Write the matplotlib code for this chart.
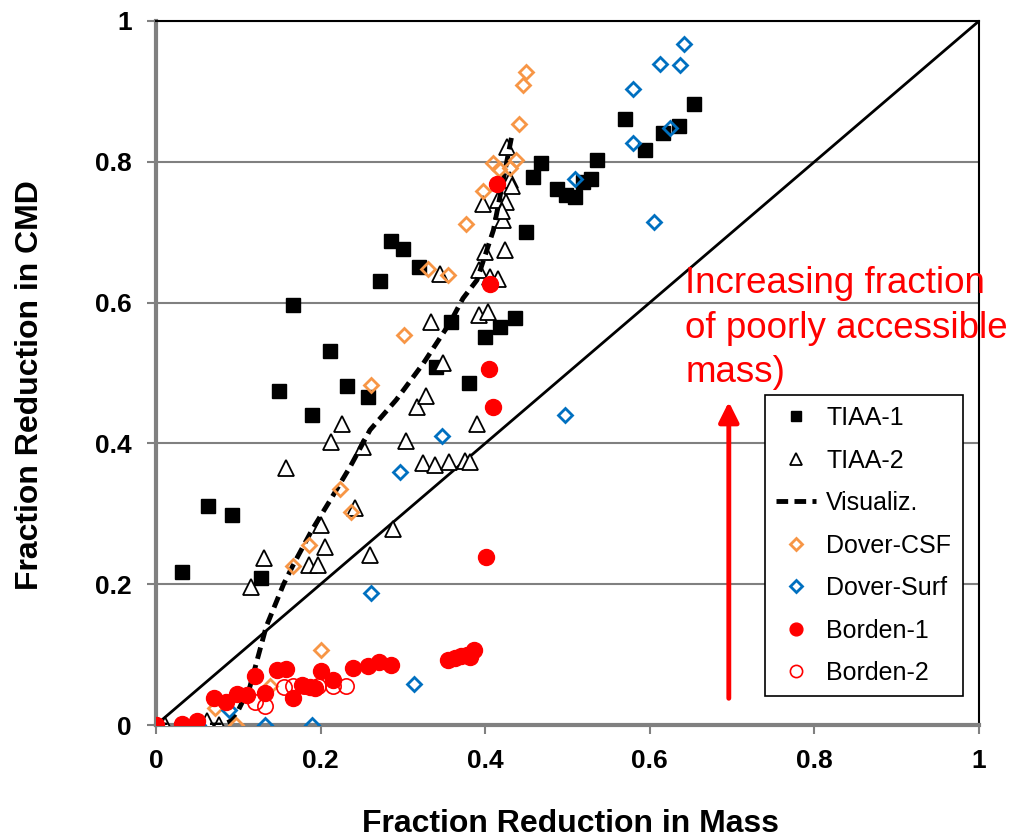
import matplotlib
matplotlib.use('Agg')
import matplotlib.pyplot as plt
import numpy as np

plt.rcParams['font.family'] = ['Liberation Sans', 'DejaVu Sans']

# TIAA-1 (filled squares)
tiaa1_x = [0.032, 0.063, 0.092, 0.128, 0.167, 0.150, 0.190, 0.211, 0.232, 0.257,
           0.272, 0.286, 0.300, 0.319, 0.358, 0.340, 0.380, 0.400, 0.418, 0.436,
           0.450, 0.458, 0.468, 0.487, 0.498, 0.509, 0.519, 0.528, 0.536, 0.570,
           0.594, 0.616, 0.636, 0.654]
tiaa1_y = [0.217, 0.311, 0.298, 0.209, 0.597, 0.474, 0.441, 0.531, 0.482, 0.466,
           0.631, 0.687, 0.676, 0.651, 0.573, 0.508, 0.486, 0.551, 0.566, 0.578,
           0.700, 0.778, 0.799, 0.761, 0.753, 0.750, 0.772, 0.776, 0.803, 0.861,
           0.817, 0.841, 0.851, 0.882]

# TIAA-2 (open triangles)
tiaa2_x = [0.011, 0.045, 0.062, 0.076, 0.116, 0.131, 0.158, 0.186, 0.197, 0.201,
           0.205, 0.213, 0.226, 0.242, 0.251, 0.260, 0.288, 0.304, 0.317, 0.328,
           0.334, 0.349, 0.325, 0.339, 0.356, 0.375, 0.381, 0.390, 0.345, 0.392,
           0.404, 0.393, 0.400, 0.406, 0.416, 0.424, 0.422, 0.397, 0.416, 0.425,
           0.430, 0.432, 0.426, 0.420]
tiaa2_y = [0.000, 0.000, 0.005, 0.000, 0.196, 0.237, 0.365, 0.227, 0.227, 0.284,
           0.253, 0.402, 0.428, 0.308, 0.395, 0.241, 0.278, 0.403, 0.451, 0.467,
           0.572, 0.514, 0.372, 0.370, 0.373, 0.375, 0.373, 0.428, 0.641, 0.582,
           0.587, 0.646, 0.672, 0.637, 0.634, 0.675, 0.717, 0.740, 0.746, 0.743,
           0.774, 0.765, 0.821, 0.730]

# Visualization curve (dashed)
vis_x = [0.0, 0.08, 0.09, 0.10, 0.114, 0.134, 0.155, 0.167, 0.19, 0.211, 0.236,
         0.26, 0.292, 0.325, 0.357, 0.373, 0.39, 0.41, 0.432]
vis_y = [0.0, 0.0, 0.005, 0.021, 0.054, 0.14, 0.2, 0.228, 0.278, 0.318, 0.367,
         0.419, 0.462, 0.514, 0.571, 0.606, 0.632, 0.703, 0.835]

# Dover-CSF (orange diamonds)
csf_x = [0.072, 0.097, 0.139, 0.166, 0.186, 0.201, 0.224, 0.237, 0.261, 0.301,
         0.331, 0.355, 0.377, 0.397, 0.410, 0.417, 0.430, 0.438, 0.441, 0.446, 0.450]
csf_y = [0.024, 0.000, 0.055, 0.226, 0.255, 0.107, 0.335, 0.302, 0.483, 0.554,
         0.648, 0.639, 0.711, 0.758, 0.798, 0.790, 0.791, 0.803, 0.853, 0.909, 0.927]

# Dover-Surf (blue diamonds)
surf_x = [0.051, 0.089, 0.132, 0.190, 0.261, 0.296, 0.313, 0.348, 0.497, 0.509,
          0.579, 0.580, 0.605, 0.612, 0.625, 0.637, 0.642]
surf_y = [0.000, 0.021, 0.000, 0.000, 0.187, 0.359, 0.058, 0.411, 0.441, 0.775,
          0.826, 0.903, 0.714, 0.939, 0.848, 0.937, 0.967]

# Borden-1 (filled red circles)
b1_x = [0.0, 0.031, 0.050, 0.070, 0.085, 0.099, 0.110, 0.120, 0.132, 0.147, 0.158,
        0.167, 0.177, 0.187, 0.193, 0.201, 0.215, 0.239, 0.257, 0.271, 0.285,
        0.355, 0.363, 0.371, 0.378, 0.382, 0.386, 0.401, 0.405, 0.410, 0.406, 0.414]
b1_y = [0.0, 0.002, 0.005, 0.039, 0.033, 0.044, 0.043, 0.069, 0.045, 0.078, 0.080,
        0.038, 0.057, 0.054, 0.053, 0.077, 0.064, 0.081, 0.084, 0.090, 0.085,
        0.093, 0.095, 0.098, 0.099, 0.097, 0.107, 0.238, 0.505, 0.451, 0.627, 0.769]

# Borden-2 (open red circles)
b2_x = [0.0, 0.120, 0.132, 0.155, 0.167, 0.180, 0.197, 0.215, 0.231]
b2_y = [0.0, 0.033, 0.027, 0.054, 0.055, 0.056, 0.055, 0.055, 0.055]

ticks = [0, 0.2, 0.4, 0.6, 0.8, 1]
tick_labels = ['0', '0.2', '0.4', '0.6', '0.8', '1']

orange = '#F79646'
blue = '#0070C0'
red = '#FF0000'
grey = '#808080'

fig = plt.figure(figsize=(10.15, 8.38), dpi=100)
ax = fig.add_axes([156 / 1015, 113 / 838, 823 / 1015, 704 / 838])

# 1:1 line
ax.plot([0, 1], [0, 1], color='black', lw=2, zorder=2)

ax.plot(tiaa1_x, tiaa1_y, ls='none', marker='s', ms=9.5, color='black',
        label='TIAA-1', zorder=3)
ax.plot(tiaa2_x, tiaa2_y, ls='none', marker='^', ms=11, mfc='white', mec='black',
        mew=1.3, label='TIAA-2', zorder=3)
ax.plot(vis_x, vis_y, color='black', lw=3.5, ls=(0, (2.4, 1.3)),
        label='Visualiz.', zorder=4)
ax.plot(csf_x, csf_y, ls='none', marker='D', ms=7.5, mfc='none', mec=orange,
        mew=2, label='Dover-CSF', zorder=5)
ax.plot(surf_x, surf_y, ls='none', marker='D', ms=7.5, mfc='none', mec=blue,
        mew=2, label='Dover-Surf', zorder=5)
ax.plot(b1_x, b1_y, ls='none', marker='o', ms=11.5, color=red,
        label='Borden-1', zorder=6)
ax.plot(b2_x, b2_y, ls='none', marker='o', ms=11, mfc='none', mec=red,
        mew=1.2, label='Borden-2', zorder=6)

ax.set_xlim(0, 1)
ax.set_ylim(0, 1)
ax.set_xticks(ticks)
ax.set_xticklabels(tick_labels)
ax.set_yticks(ticks)
ax.set_yticklabels(tick_labels)
ax.tick_params(direction='out', length=6.5, width=1.5, color=grey, labelsize=19)
ax.tick_params(axis='y', pad=11)
ax.tick_params(axis='x', pad=11)
for lab in ax.get_xticklabels() + ax.get_yticklabels():
    lab.set_fontweight('bold')

ax.yaxis.grid(True, color=grey, lw=1.5)
ax.set_axisbelow(True)
ax.spines['left'].set_color(grey)
ax.spines['left'].set_linewidth(3)
ax.spines['bottom'].set_color(grey)
ax.spines['bottom'].set_linewidth(3)
ax.spines['top'].set_linewidth(1.5)
ax.spines['right'].set_linewidth(1.5)

fig.text(30 / 1015, 1 - 385 / 838, 'Fraction Reduction in CMD', rotation=90,
         ha='center', va='center', fontsize=23, fontweight='bold')
fig.text(570 / 1015, 1 - 824 / 838, 'Fraction Reduction in Mass',
         ha='center', va='center', fontsize=23, fontweight='bold')

# annotation
ax.annotate('', xy=(0.696, 0.463), xytext=(0.696, 0.034),
            arrowprops=dict(arrowstyle='-|>', color=red, lw=3.5,
                            mutation_scale=30), zorder=7)
ax.text(0.643, 0.652, 'Increasing fraction\nof poorly accessible\nmass)',
        color=red, fontsize=26.5, va='top', ha='left', linespacing=1.36,
        clip_on=False, zorder=7)

leg = ax.legend(loc='upper left', bbox_to_anchor=(0.740, 0.469),
                borderaxespad=0, fontsize=18, frameon=True, fancybox=False,
                edgecolor='black', framealpha=1, labelspacing=0.74,
                handlelength=1.6, handletextpad=0.4, borderpad=0.45,
                markerscale=0.8)
leg.get_frame().set_linewidth(1.2)

fig.savefig('out.png', dpi=100)
